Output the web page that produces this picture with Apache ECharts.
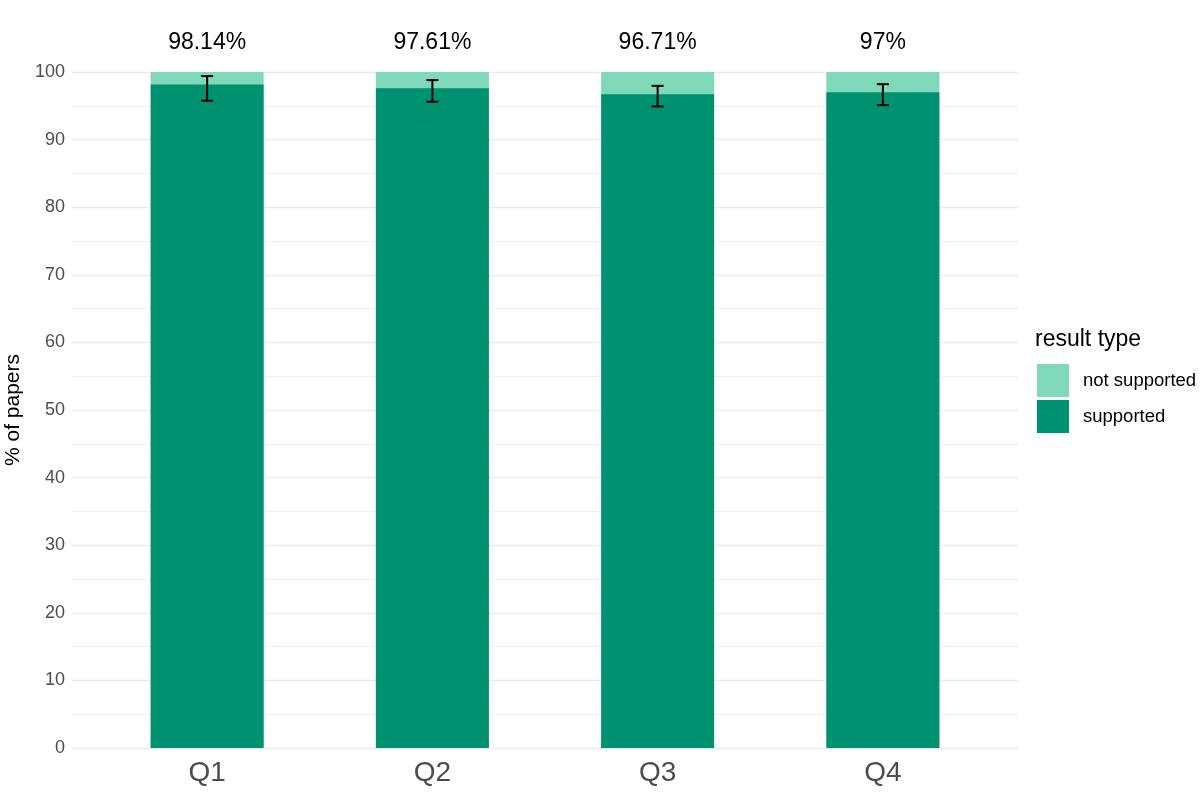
<!DOCTYPE html>
<html lang="en">
	<head>
		<meta charset="UTF-8">
		<title></title>
		<style type="text/css">
			html,
			body,
			.canvas {
				padding: 0;
				margin: 0;
				background-color: #fff;
				width: 100%;
				height: 100%;
			}
		</style>
	</head>
	<body>
		<div class="canvas" id="chart"></div>
		<script type="text/javascript" src="https://cdn.jsdelivr.net/npm/echarts@6/dist/echarts.min.js"></script>
		<script>
			const categories = ['Q1', 'Q2', 'Q3', 'Q4'];
			const supported = [98.14, 97.61, 96.71, 97];
			const notSupported = [1.86, 2.39, 3.29, 3];
			const ciLow = [95.75, 95.6, 94.9, 95.1];
			const ciHigh = [99.4, 98.8, 97.95, 98.2];
			const topLabels = ['98.14%', '97.61%', '96.71%', '97%'];

			const font = 'Helvetica, Arial, "Liberation Sans", sans-serif';
			const xs = categories.map((c, i) => i + 1);

			const chart = echarts.init(document.getElementById('chart'));
			chart.setOption({
				animation: false,
				grid: { left: 72, right: 182, top: 72, bottom: 51, outerBoundsMode: 'none' },
				title: {
					text: 'result type',
					left: 1030, top: 323,
					textStyle: { fontFamily: font, fontSize: 23, fontWeight: 'normal', color: '#000' }
				},
				legend: {
					orient: 'vertical',
					left: 1032, top: 359,
					icon: 'rect',
					itemWidth: 32, itemHeight: 33, itemGap: 3,
					data: ['not supported', 'supported'],
					textStyle: { fontFamily: font, fontSize: 18.5, color: '#000', padding: [0, 0, 0, 9] }
				},
				xAxis: {
					type: 'value',
					min: 0.4, max: 4.6,
					splitLine: { show: false },
					axisLine: { show: false },
					axisTick: { show: false },
					axisLabel: {
						customValues: xs,
						formatter: v => categories[Math.round(v) - 1] || '',
						fontFamily: font, fontSize: 28, color: '#4d4d4d', margin: 11
					}
				},
				yAxis: {
					type: 'value',
					min: 0, max: 100, interval: 10,
					name: '% of papers',
					nameLocation: 'middle',
					nameGap: 47,
					nameTextStyle: { fontFamily: font, fontSize: 21, color: '#000' },
					axisLine: { show: false },
					axisTick: { show: false },
					axisLabel: { fontFamily: font, fontSize: 18, color: '#4d4d4d', margin: 7 },
					splitLine: { lineStyle: { color: '#ebebeb', width: 1.3 } },
					minorTick: { show: false, splitNumber: 2 },
					minorSplitLine: { show: true, lineStyle: { color: '#f0f0f0', width: 1 } }
				},
				series: [
					{
						name: 'not supported',
						type: 'bar',
						barWidth: 113,
						barGap: '-100%',
						itemStyle: { color: '#7fd8b8' },
						// drawn as the full stack (supported + not supported), the darker bar covers its lower part
						data: xs.map((x, i) => [x, supported[i] + notSupported[i]])
					},
					{
						name: 'supported',
						type: 'bar',
						barWidth: 113,
						barGap: '-100%',
						itemStyle: { color: '#009270' },
						data: xs.map((x, i) => [x, supported[i]])
					},
					{
						name: 'ci',
						type: 'custom',
						z: 10,
						data: xs.map((x, i) => [x, ciLow[i], ciHigh[i]]),
						renderItem: function (params, api) {
							const i = params.dataIndex;
							const lo = api.coord([api.value(0), api.value(1)]);
							const hi = api.coord([api.value(0), api.value(2)]);
							const top = api.coord([api.value(0), 100]);
							const hw = 6;
							const st = { stroke: '#000', lineWidth: 2, fill: null };
							return {
								type: 'group',
								children: [
									{ type: 'line', shape: { x1: lo[0], y1: lo[1], x2: hi[0], y2: hi[1] }, style: st },
									{ type: 'line', shape: { x1: lo[0] - hw, y1: lo[1], x2: lo[0] + hw, y2: lo[1] }, style: st },
									{ type: 'line', shape: { x1: hi[0] - hw, y1: hi[1], x2: hi[0] + hw, y2: hi[1] }, style: st },
									{
										type: 'text',
										style: {
											x: top[0], y: top[1] - 29,
											text: topLabels[i],
											align: 'center', verticalAlign: 'middle',
											font: '23px ' + font,
											fill: '#000'
										}
									}
								]
							};
						}
					}
				]
			});
		</script>
	</body>
</html>
